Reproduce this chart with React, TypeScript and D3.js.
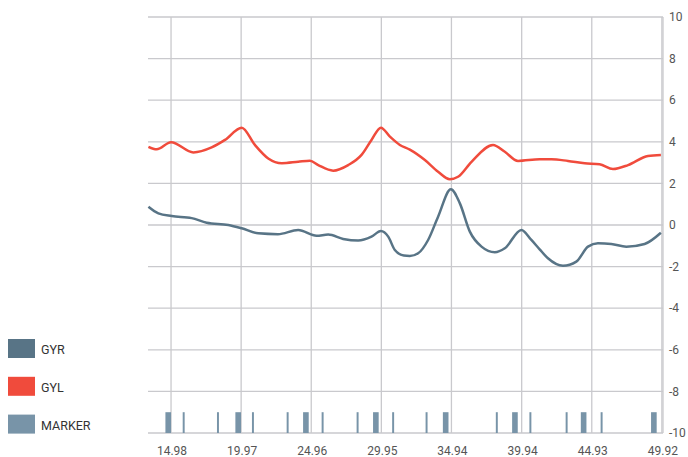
import React, { useEffect, useRef } from 'react';
import * as d3 from 'd3';

const W = 688;
const H = 457;
const MARGIN = { top: 17, right: 25, bottom: 24, left: 148 };

// x tick values shown under the chart
const xTicks = [14.98, 19.97, 24.96, 29.95, 34.94, 39.94, 44.93, 49.92];
const yTicks = [-10, -8, -6, -4, -2, 0, 2, 4, 6, 8, 10];

// GYL (red) series
const gylX = [13.37, 13.96, 14.98, 16.57, 17.87, 18.82, 20.01, 20.95, 21.9, 22.87, 24.03, 24.87, 25.46, 26.52, 27.59, 28.54, 29.25, 29.92, 30.56, 31.27, 31.98, 33.05, 33.99, 34.82, 35.41, 36.37, 37.9, 38.74, 39.68, 41.22, 42.06, 43.24, 44.43, 45.49, 46.44, 47.51, 48.93, 49.85];
const gylY = [3.76, 3.64, 3.98, 3.49, 3.73, 4.09, 4.68, 3.85, 3.2, 2.97, 3.04, 3.09, 2.88, 2.61, 2.88, 3.37, 4.09, 4.68, 4.25, 3.85, 3.62, 3.12, 2.56, 2.2, 2.32, 3.04, 3.85, 3.52, 3.08, 3.16, 3.16, 3.08, 2.97, 2.92, 2.69, 2.88, 3.32, 3.37];

// GYR (slate) series
const gyrX = [13.37, 14.08, 15.03, 16.45, 17.52, 19.06, 20.01, 21.19, 22.59, 24.03, 25.34, 26.17, 27.23, 28.3, 29.25, 29.92, 30.44, 30.91, 31.55, 31.98, 32.57, 33.28, 33.99, 34.9, 35.54, 36.25, 37.08, 38.03, 38.74, 39.92, 40.63, 41.22, 41.81, 42.88, 43.83, 44.66, 45.37, 46.32, 47.39, 48.69, 49.85];
const gyrY = [0.88, 0.56, 0.43, 0.33, 0.11, 0.0, -0.16, -0.4, -0.44, -0.24, -0.52, -0.46, -0.67, -0.75, -0.56, -0.29, -0.56, -1.2, -1.47, -1.49, -1.36, -0.72, 0.4, 1.72, 1.04, -0.32, -1.04, -1.31, -1.12, -0.24, -0.72, -1.17, -1.6, -1.96, -1.76, -1.04, -0.88, -0.91, -1.04, -0.91, -0.37];

// MARKER bars
const markerMajor = [14.78, 19.76, 24.58, 29.56, 34.53, 39.46, 44.35, 49.35];
const markerMinor = [15.88, 18.32, 20.81, 23.28, 25.77, 28.26, 30.79, 33.17, 38.17, 40.56, 43.14, 45.63];

const COLORS = { gyr: '#587486', gyl: '#f04b3c', marker: '#7894a8', grid: '#c9c9cd', text: '#555' };

const legendItems = [
  { label: 'GYR', color: COLORS.gyr },
  { label: 'GYL', color: COLORS.gyl },
  { label: 'MARKER', color: COLORS.marker },
];

const App = () => {
  const svgRef = useRef<SVGSVGElement | null>(null);

  useEffect(() => {
    if (!svgRef.current) return;
    const svg = d3.select(svgRef.current);
    svg.selectAll('*').remove();

    const x = d3.scaleLinear().domain([13.34, 50.0]).range([MARGIN.left, W - MARGIN.right]);
    const y = d3.scaleLinear().domain([-10, 10]).range([H - MARGIN.bottom, MARGIN.top]);
    const font = 'Roboto, "DejaVu Sans", sans-serif';

    // grid
    const grid = svg.append('g');
    grid.selectAll('.hg')
      .data(yTicks)
      .enter()
      .append('line')
      .attr('x1', x.range()[0])
      .attr('x2', x.range()[1])
      .attr('y1', d => y(d))
      .attr('y2', d => y(d))
      .attr('stroke', COLORS.grid)
      .attr('stroke-width', 1.3);

    grid.selectAll('.vg')
      .data(xTicks)
      .enter()
      .append('line')
      .attr('x1', d => x(d))
      .attr('x2', d => x(d))
      .attr('y1', y(10))
      .attr('y2', y(-10))
      .attr('stroke', COLORS.grid)
      .attr('stroke-width', 1.3);

    // right axis line
    grid.append('line')
      .attr('x1', x.range()[1])
      .attr('x2', x.range()[1])
      .attr('y1', y(10))
      .attr('y2', y(-10))
      .attr('stroke', COLORS.grid)
      .attr('stroke-width', 1.3);

    // marker bars
    const markers = [
      ...markerMajor.map(v => ({ v, w: 0.4 })),
      ...markerMinor.map(v => ({ v, w: 0.14 })),
    ];
    svg.append('g')
      .selectAll('rect')
      .data(markers)
      .enter()
      .append('rect')
      .attr('x', d => x(d.v - d.w / 2))
      .attr('width', d => x(d.v + d.w / 2) - x(d.v - d.w / 2))
      .attr('y', y(-9))
      .attr('height', y(-10) - y(-9))
      .attr('fill', COLORS.marker);

    // lines
    const line = d3.line<[number, number]>()
      .x(d => x(d[0]))
      .y(d => y(d[1]))
      .curve(d3.curveMonotoneX);

    const series = [
      { xs: gyrX, ys: gyrY, color: COLORS.gyr },
      { xs: gylX, ys: gylY, color: COLORS.gyl },
    ];
    series.forEach(s => {
      const pts = s.xs.map((v, i) => [v, s.ys[i]] as [number, number]);
      svg.append('path')
        .attr('d', line(pts))
        .attr('fill', 'none')
        .attr('stroke', s.color)
        .attr('stroke-width', 2.5)
        .attr('stroke-linejoin', 'round');
    });

    // right axis labels
    svg.append('g')
      .selectAll('text')
      .data(yTicks)
      .enter()
      .append('text')
      .attr('x', x.range()[1] + 6)
      .attr('y', d => y(d) + 1)
      .attr('dominant-baseline', 'middle')
      .attr('fill', COLORS.text)
      .attr('font-family', font)
      .attr('font-size', '12px')
      .text(d => String(d));

    // bottom labels
    svg.append('g')
      .selectAll('text')
      .data(xTicks)
      .enter()
      .append('text')
      .attr('x', d => x(d) + 1)
      .attr('y', 455)
      .attr('text-anchor', 'middle')
      .attr('fill', COLORS.text)
      .attr('font-family', font)
      .attr('font-size', '12px')
      .text(d => d.toFixed(2));

    // legend
    const legend = svg.append('g');
    legendItems.forEach((item, i) => {
      const top = 339 + i * 37.8;
      legend.append('rect')
        .attr('x', 8)
        .attr('y', top)
        .attr('width', 27)
        .attr('height', 19)
        .attr('fill', item.color);
      legend.append('text')
        .attr('x', 41)
        .attr('y', top + 15)
        .attr('fill', '#333')
        .attr('font-family', font)
        .attr('font-size', '12.5px')
        .text(item.label);
    });
  }, []);

  return (
    <svg
      ref={svgRef}
      width={W}
      height={H}
      style={{ position: 'absolute', left: 0, top: 0, background: '#fff' }}
    />
  );
};

export default App;
